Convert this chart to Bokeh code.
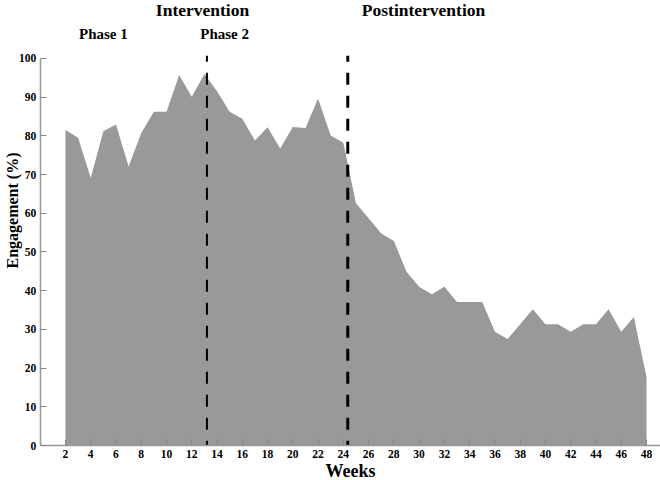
import math
from bokeh.plotting import figure
from bokeh.models import Label, FixedTicker, Range1d
from bokeh.embed import file_html
from bokeh.resources import INLINE

weeks = list(range(2, 49))
engagement = [81.5, 79.5, 69.1, 81.2, 82.9, 72.1, 80.7, 86.2, 86.2, 95.7,
              90.1, 96.0, 91.5, 86.2, 84.4, 78.8, 82.2, 76.7, 82.3, 82.0,
              89.6, 80.1, 78.2, 62.6, 58.7, 54.8, 52.8, 44.9, 41.0, 39.1,
              41.0, 37.1, 37.1, 37.1, 29.4, 27.5, 31.3, 35.2, 31.3, 31.3,
              29.4, 31.3, 31.3, 35.2, 29.4, 33.2, 17.7]
phase_boundaries = [13.2, 24.35]
x_ticks = list(range(2, 49, 2))
y_ticks = list(range(0, 101, 10))

FONT = "Liberation Serif"

p = figure(width=660, height=480, output_backend="svg", toolbar_location=None,
           x_range=Range1d(-3.143, 49.11), y_range=Range1d(-9.04, 114.96),
           min_border=0)
p.outline_line_color = None
p.xgrid.visible = False
p.ygrid.visible = False

p.varea(x=weeks, y1=0, y2=engagement, fill_color="#999999")

p.segment(x0=phase_boundaries, x1=phase_boundaries,
          y0=[100.7] * len(phase_boundaries), y1=[0] * len(phase_boundaries),
          line_color="black", line_width=[2, 3], line_dash="12 11",
          line_dash_offset=6)

p.xaxis.fixed_location = 0
p.yaxis.fixed_location = 0
p.xaxis.bounds = (0, 49.1)
p.yaxis.bounds = (0, 100)

for ax, ticks in ((p.xaxis, x_ticks), (p.yaxis, y_ticks)):
    ax.ticker = FixedTicker(ticks=ticks)
    ax.axis_line_color = "#999999"
    ax.axis_line_width = 1.5
    ax.major_tick_line_color = "#888888"
    ax.major_tick_in = 6
    ax.major_tick_out = 0
    ax.minor_tick_line_color = None
    ax.major_label_text_font = FONT
    ax.major_label_text_font_style = "bold"
    ax.major_label_text_font_size = "11.5px"
    ax.major_label_text_color = "black"
    ax.major_label_standoff = 4

def lab(x, y, text, size, angle=0):
    p.add_layout(Label(x=x, y=y, text=text, text_font=FONT, text_font_style="bold",
                       text_font_size=size, text_align="center", text_baseline="middle",
                       angle=angle, text_color="black"))

lab(12.85, 112.6, "Intervention", "17.5px")
lab(30.35, 112.6, "Postintervention", "17.5px")
lab(5.0, 106.3, "Phase 1", "15px")
lab(14.6, 106.3, "Phase 2", "15px")
lab(24.57, -6.5, "Weeks", "18px")
lab(-2.19, 60.7, "Engagement (%)", "16px", angle=math.pi / 2)

open("out.html", "w").write(file_html(p, INLINE))
